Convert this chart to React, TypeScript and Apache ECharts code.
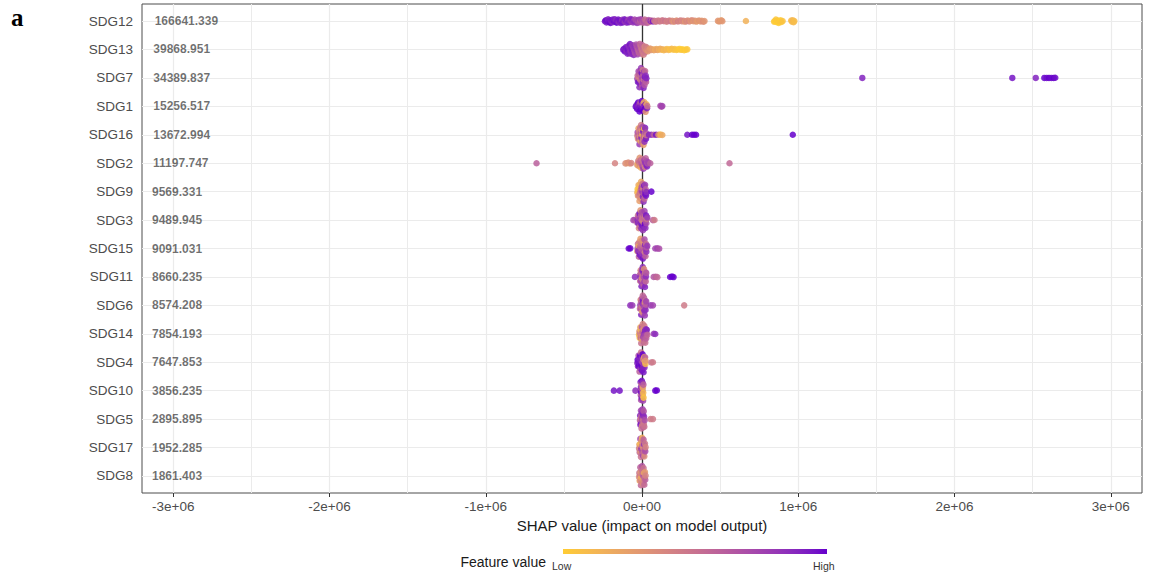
import React, { useEffect, useRef } from "react";
import * as echarts from "echarts";

const features = ["SDG12","SDG13","SDG7","SDG1","SDG16","SDG2","SDG9","SDG3","SDG15","SDG11","SDG6","SDG14","SDG4","SDG10","SDG5","SDG17","SDG8"];
const meanAbsShap = ["166641.339","39868.951","34389.837","15256.517","13672.994","11197.747","9569.331","9489.945","9091.031","8660.235","8574.208","7854.193","7647.853","3856.235","2895.895","1952.285","1861.403"];
const xTicks = [-3e6, -2e6, -1e6, 0, 1e6, 2e6, 3e6];
const xMinorTicks = [-2.5e6, -1.5e6, -0.5e6, 0.5e6, 1.5e6, 2.5e6];
const legendLabels = ["Low", "High"];

// [SHAP value in thousands, normalised feature value 0 (low) .. 1 (high)]
const sdg12 = [[-237,.95],[-232,.98],[-227,.92],[-222,.97],[-217,.9],[-212,.96],[-207,.93],[-202,.99],[-197,.9],[-192,.95],[-187,.88],[-182,.97],[-177,.92],[-172,.95],[-167,.86],[-162,.98],[-157,.9],[-152,.94],[-147,.85],[-142,.96],[-137,.9],[-132,.93],[-127,.82],[-122,.95],[-117,.88],[-112,.92],[-107,.8],[-102,.94],[-97,.86],[-92,.9],[-87,.78],[-82,.92],[-77,.84],[-72,.88],[-67,.75],[-62,.9],[-57,.8],[-52,.85],
  [-47,.72],[-42,.85],[-37,.7],[-32,.8],[-27,.65],[-22,.78],[-17,.7],[-12,.6],[-7,.75],[-2,.65],[3,.7],[8,.58],[13,.68],[18,.55],[23,.62],[28,.5],[33,.6],[38,.55],[43,.65],[48,.5],[55,.9],[62,.55],[70,.95],[78,.5],[86,.45],
  [95,.48],[104,.45],[113,.5],[122,.42],[131,.47],[140,.44],[149,.5],[158,.4],[167,.45],[176,.42],[185,.48],[194,.35],[203,.3],[212,.4],[221,.32],[230,.44],[239,.38],[248,.42],[257,.36],[266,.4],[275,.3],[284,.38],[293,.34],[302,.4],[311,.3],[320,.36],[329,.28],[338,.34],[347,.3],[356,.25],[365,.32],[374,.28],[383,.3],[392,.35],[400,.3],
  [486,.3],[493,.28],[500,.3],[507,.26],[514,.3],[665,.15],
  [845,.02],[851,0],[857,.03],[863,0],[869,.02],[875,0],[881,.04],[887,0],[893,.02],[900,.05],[955,.1],[960,.08],[965,.12],[970,.1],[975,.08]];
const sdg13 = [[-120,.95],[-115,.92],[-110,.97],[-106,.9],[-102,.95],[-98,.88],[-95,.93],[-92,.9],[-89,.96],[-86,.85],[-83,.92],[-80,.88],[-77,.95],[-74,.82],[-71,.9],[-68,.85],[-65,.93],[-62,.8],[-59,.9],[-56,.78],[-53,.88],[-50,.75],[-47,.85],[-44,.7],[-41,.82],[-38,.68],[-35,.8],[-32,.65],[-29,.75],[-26,.6],[-23,.72],[-20,.58],[-17,.7],[-14,.55],[-11,.65],[-8,.5],[-5,.62],[-2,.48],[1,.58],[4,.45],[7,.55],[10,.42],[13,.5],[16,.4],[19,.48],[22,.38],[26,.45],[30,.35],[35,.4],[40,.3],[46,.35],[52,.28],[60,.3],[68,.22],[76,.25],[84,.18],[92,.2],[100,.25],[108,.15],[116,.2],[124,.12],[132,.18],[140,.1],[150,.15],[160,.08],[170,.12],[180,.05],[190,.1],[200,.05],[210,.08],[220,.03],[230,.05],[240,0],[250,.03],[260,0],[270,.02],[280,0],[290,.03]];
const sdg7 = [[-30,.8],[-28,.55],[-26,.9],[-24,.45],[-22,.75],[-20,.95],[-18,.6],[-16,.85],[-14,.4],[-12,.7],[-10,.9],[-8,.55],[-6,.8],[-4,.5],[-2,.95],[0,.65],[2,.75],[4,.45],[6,.85],[8,.6],[10,.9],[12,.5],[14,.8],[16,.65],[18,.95],[20,.55],[22,.75],[24,.85],[26,.6],[28,.9],[1410,.9],[2370,.95],[2520,.9],[2575,1],[2590,.97],[2605,1],[2620,.98],[2635,1],[2645,.97]];
const sdg1 = [[-40,1],[-34,.95],[-31,1],[-28,.9],[-25,1],[-22,.95],[-19,.85],[-16,1],[-13,.95],[-10,.6],[-7,1],[-4,.9],[-1,1],[2,.95],[5,.55],[8,1],[11,.9],[14,.2],[17,1],[20,.95],[23,.3],[26,1],[29,.15],[32,.9],[34,.5],[118,.75],[124,.7],[130,.75]];
const sdg16 = [[-30,.45],[-28,.7],[-26,.3],[-24,.55],[-22,.2],[-20,.65],[-18,.4],[-16,.8],[-14,.35],[-12,.5],[-10,.15],[-8,.6],[-6,.45],[-4,.9],[-2,.3],[0,.55],[2,.1],[4,.7],[6,.4],[8,.95],[10,.25],[12,.6],[14,.05],[16,.85],[18,.45],[20,.9],[22,.2],[24,.7],[26,.95],[28,.5],[45,.9],[60,.85],[75,.6],[90,.95],[105,.3],[118,.1],[130,.2],[290,.95],[320,1],[333,1],[346,1],[965,1]];
const sdg2 = [[-675,.6],[-173,.4],[-106,.35],[-97,.3],[-88,.35],[-78,.3],[-68,.4],[-30,.3],[-27,.2],[-24,.45],[-21,.25],[-18,.5],[-15,.3],[-12,.4],[-9,.55],[-6,.2],[-3,.6],[0,.45],[3,.7],[6,.5],[9,.8],[12,.55],[15,.75],[18,.4],[21,.85],[24,.6],[27,.8],[30,.7],[33,.9],[36,.65],[40,.75],[53,.6],[560,.55]];
const sdg9 = [[-30,.15],[-28,.05],[-26,.3],[-24,.1],[-22,.2],[-20,.4],[-18,.05],[-16,.25],[-14,.5],[-12,.15],[-10,.35],[-8,.6],[-6,.2],[-4,.45],[-2,.7],[0,.3],[2,.8],[4,.5],[6,.9],[8,.4],[10,.85],[12,.65],[14,.95],[16,.55],[18,.9],[20,.75],[22,1],[24,.6],[26,.95],[28,.85],[60,1]];
const sdg3 = [[-55,.75],[-45,.7],[-30,.6],[-28,.85],[-26,.5],[-24,.9],[-22,.65],[-20,.4],[-18,.8],[-16,.95],[-14,.55],[-12,.75],[-10,.3],[-8,.9],[-6,.6],[-4,.85],[-2,.45],[0,.7],[2,.95],[4,.5],[6,.8],[8,.35],[10,.65],[12,.9],[14,.55],[16,.75],[18,1],[20,.45],[22,.85],[24,.6],[26,.95],[28,.7],[30,.5],[34,.8],[70,.6],[80,.45]];
const sdg15 = [[-85,1],[-75,1],[-30,.3],[-28,.7],[-26,.5],[-24,.9],[-22,.2],[-20,.6],[-18,.8],[-16,.4],[-14,.95],[-12,.55],[-10,.25],[-8,.75],[-6,.45],[-4,.9],[-2,.6],[0,.35],[2,.8],[4,.5],[6,.95],[8,.65],[10,.3],[12,.85],[14,.55],[16,.7],[18,.4],[20,.9],[22,.6],[24,.75],[26,.5],[28,.85],[30,.65],[34,.8],[85,.75],[98,.75],[110,.7]];
const sdg11 = [[-45,.85],[-13,.6],[-12,.5],[-11,.85],[-9,.4],[-7,.75],[-5,.55],[-3,.9],[-1,.3],[0,.8],[1,.7],[3,.5],[5,.85],[7,.45],[9,.95],[11,.6],[12,.7],[13,.35],[15,.8],[17,.55],[19,.9],[21,.7],[23,.45],[24,.55],[25,.85],[27,.65],[75,.65],[88,.6],[98,.55],[180,1],[192,1],[202,1]];
const sdg6 = [[-75,.85],[-62,.8],[-13,.5],[-11,.8],[-9,.35],[-7,.7],[-6,.6],[-5,.9],[-3,.45],[-1,.65],[1,.25],[3,.85],[5,.55],[6,.5],[7,.95],[9,.4],[11,.75],[13,.6],[15,.9],[17,.3],[18,.8],[19,.7],[21,.5],[23,.85],[25,.6],[27,.75],[55,.8],[70,.75],[270,.45]];
const sdg14 = [[-19,.1],[-17,.3],[-15,.05],[-13,.45],[-11,.2],[-9,.55],[-7,.15],[-5,.5],[-3,.35],[-1,.65],[1,.25],[3,.6],[5,.4],[7,.75],[9,.3],[11,.55],[13,.8],[15,.45],[17,.65],[19,.9],[21,.5],[23,.7],[25,.85],[27,.6],[29,.75],[31,.9],[34,.55],[75,.8],[85,.85]];
const sdg4 = [[-30,.9],[-28,1],[-26,.85],[-24,.95],[-22,.7],[-20,1],[-18,.9],[-16,.6],[-14,.95],[-12,1],[-10,.8],[-8,.9],[-6,.5],[-4,1],[-2,.85],[0,.95],[2,.7],[4,1],[6,.9],[8,.4],[10,.95],[12,.8],[14,.2],[16,.9],[18,.15],[20,.6],[22,.1],[23,.3],[60,.5],[70,.45]];
const sdg10 = [[-180,.95],[-143,.95],[-42,.85],[-10,.8],[-9,.95],[-8,.6],[-7,.9],[-6,.7],[-5,1],[-4,.5],[-3,.85],[-2,.65],[-1,.95],[0,.75],[1,.55],[2,.9],[3,.7],[4,.85],[5,.4],[6,.2],[7,.75],[8,.1],[9,.6],[10,.05],[85,1],[95,1]];
const sdg5 = [[-13,.6],[-12,.9],[-11,.85],[-9,.45],[-7,.75],[-5,.95],[-4,.6],[-3,.5],[-1,.7],[0,.85],[1,.35],[3,.8],[4,.75],[5,.55],[7,.9],[8,.6],[9,.4],[11,.65],[12,.45],[13,.85],[15,.5],[17,.7],[55,.45],[70,.45]];
const sdg17 = [[-19,.45],[-17,.2],[-15,.6],[-13,.35],[-11,.7],[-10,.3],[-9,.1],[-7,.5],[-5,.8],[-3,.3],[-1,.55],[0,.5],[1,.15],[3,.65],[5,.4],[7,.75],[9,.25],[10,.6],[11,.5],[13,.85],[15,.35],[17,.6],[19,.45],[21,.7],[23,.4]];
const sdg8 = [[-19,.35],[-17,.5],[-15,.2],[-13,.45],[-11,.6],[-10,.4],[-9,.3],[-7,.55],[-5,.15],[-3,.5],[-1,.4],[0,.45],[1,.65],[3,.25],[5,.5],[7,.35],[9,.7],[10,.5],[11,.4],[13,.2],[15,.55],[17,.45],[19,.3],[21,.6],[23,.4]];

const rows = [sdg12, sdg13, sdg7, sdg1, sdg16, sdg2, sdg9, sdg3, sdg15, sdg11, sdg6, sdg14, sdg4, sdg10, sdg5, sdg17, sdg8];

const LOW = "#FFCC33";
const HIGH = "#6600CC";
const FONT = '"Liberation Sans", Arial, sans-serif';

function hexToRgb(h: string) {
  const n = parseInt(h.slice(1), 16);
  return [(n >> 16) & 255, (n >> 8) & 255, n & 255];
}
function s2l(c: number) { c /= 255; return c <= 0.04045 ? c / 12.92 : Math.pow((c + 0.055) / 1.055, 2.4); }
function l2s(c: number) { const v = c <= 0.0031308 ? 12.92 * c : 1.055 * Math.pow(c, 1 / 2.4) - 0.055; return Math.round(Math.max(0, Math.min(1, v)) * 255); }
const XN = 0.95047, ZN = 1.08883;
function fLab(t: number) { return t > 0.008856 ? Math.cbrt(t) : 7.787 * t + 16 / 116; }
function fInv(t: number) { return t > 0.206893 ? t * t * t : (t - 16 / 116) / 7.787; }
function rgb2lab(rgb: number[]) {
  const R = s2l(rgb[0]), G = s2l(rgb[1]), B = s2l(rgb[2]);
  const X = 0.4124 * R + 0.3576 * G + 0.1805 * B;
  const Y = 0.2126 * R + 0.7152 * G + 0.0722 * B;
  const Z = 0.0193 * R + 0.1192 * G + 0.9505 * B;
  const fx = fLab(X / XN), fy = fLab(Y), fz = fLab(Z / ZN);
  return [116 * fy - 16, 500 * (fx - fy), 200 * (fy - fz)];
}
function lab2rgb(lab: number[]) {
  const fy = (lab[0] + 16) / 116, fx = fy + lab[1] / 500, fz = fy - lab[2] / 200;
  const X = fInv(fx) * XN, Y = fInv(fy), Z = fInv(fz) * ZN;
  const R = 3.2406 * X - 1.5372 * Y - 0.4986 * Z;
  const G = -0.9689 * X + 1.8758 * Y + 0.0415 * Z;
  const B = 0.0557 * X - 0.204 * Y + 1.057 * Z;
  return [l2s(R), l2s(G), l2s(B)];
}
const labLow = rgb2lab(hexToRgb(LOW));
const labHigh = rgb2lab(hexToRgb(HIGH));
function colorAt(t: number) {
  const lab = labLow.map((v, i) => v + (labHigh[i] - v) * t);
  const c = lab2rgb(lab);
  return `rgb(${c[0]},${c[1]},${c[2]})`;
}

function fmtTick(v: number) {
  if (v === 0) return "0e+00";
  return `${v / 1e6}e+06`;
}

export default function App() {
  const ref = useRef<HTMLDivElement>(null);
  useEffect(() => {
    document.body.style.margin = "0";
    if (!ref.current) return;
    const chart = echarts.init(ref.current, undefined, { renderer: "svg" });

    // sina-style vertical spread (layout only): width grows with local point count
    const MAXH = 0.37, W = 12, REF = 12, P = 1.5;
    const pts: any[] = [];
    rows.forEach((row, r) => {
      const sorted = [...row].sort((a, b) => a[0] - b[0]);
      sorted.forEach(([s, f], i) => {
        const cnt = sorted.filter((p) => Math.abs(p[0] - s) <= W).length - 1;
        const half = MAXH * Math.pow(Math.min(1, cnt / REF), P);
        const u = (((i + 1) * 0.6180339887) % 1) * 2 - 1;
        pts.push({ value: [s * 1000, r + half * u], itemStyle: { color: colorAt(f) } });
      });
    });

    const canvas = document.createElement("canvas");
    const ctx = canvas.getContext("2d")!;
    ctx.font = `bold 12px ${FONT}`;
    const labelData = features.map((_, i) => ({
      value: [-3.2e6, i],
      label: { offset: [0.2 * ctx.measureText(meanAbsShap[i]).width, 0] },
    }));

    const stops = Array.from({ length: 21 }, (_, k) => ({ offset: k / 20, color: colorAt(k / 20) }));
    const idx = features.map((_, i) => i);

    chart.setOption({
      animation: false,
      grid: { left: 142, top: 4, width: 1000, height: 489, show: true, borderColor: "#4d4d4d", borderWidth: 1, backgroundColor: "transparent" },
      xAxis: [
        {
          type: "value", min: -3.2e6, max: 3.2e6, position: "bottom",
          axisLine: { show: false, onZero: false },
          axisTick: { show: true, length: 4, customValues: xTicks, lineStyle: { color: "#333" } },
          axisLabel: { customValues: xTicks, formatter: fmtTick, color: "#4d4d4d", fontSize: 13.5, fontFamily: FONT, margin: 6 },
          splitLine: { show: true, lineStyle: { color: "#ebebeb", width: 1.2 } },
          name: "SHAP value (impact on model output)", nameLocation: "middle", nameGap: 20,
          nameTextStyle: { fontSize: 15, color: "#1a1a1a", fontFamily: FONT },
        },
        {
          type: "value", min: -3.2e6, max: 3.2e6, position: "bottom",
          axisLine: { show: false, onZero: false },
          axisTick: { show: false, customValues: xMinorTicks },
          axisLabel: { show: false, customValues: xMinorTicks },
          splitLine: { show: true, lineStyle: { color: "#ebebeb", width: 1 } },
        },
      ],
      yAxis: {
        type: "value", min: -0.6, max: 16.6, inverse: true,
        axisLine: { show: false, onZero: false },
        axisTick: { show: false, customValues: idx },
        axisLabel: { customValues: idx, formatter: (v: number) => features[Math.round(v)], color: "#4d4d4d", fontSize: 13.5, fontFamily: FONT, margin: 9 },
        splitLine: { show: true, lineStyle: { color: "#ebebeb", width: 1.2 } },
      },
      series: [
        {
          type: "scatter", z: 2, symbolSize: 6.5, data: pts, itemStyle: { opacity: 0.85 }, silent: true,
          markLine: {
            z: 1, silent: true, symbol: ["none", "none"], label: { show: false },
            lineStyle: { color: "#333", width: 1.3, type: "solid" },
            data: [{ xAxis: 0 }],
          },
        },
        {
          type: "scatter", z: 3, symbolSize: 0, data: labelData, silent: true,
          label: {
            show: true, position: "right", distance: 0,
            formatter: (p: any) => meanAbsShap[p.dataIndex],
            fontWeight: "bold", fontSize: 12, fontFamily: FONT, color: "rgba(0,0,0,0.7)",
          },
        },
      ],
      graphic: [
        { type: "text", left: 11, top: 5, style: { text: "a", font: 'bold 25px "Liberation Serif", "Times New Roman", serif', fill: "#000" } },
        { type: "rect", shape: { x: 563, y: 549, width: 264, height: 5 }, style: { fill: new echarts.graphic.LinearGradient(0, 0, 1, 0, stops) } },
        { type: "text", x: 546, y: 562, style: { text: "Feature value", font: `14px ${FONT}`, fill: "#1a1a1a", align: "right", verticalAlign: "middle", textAlign: "right", textVerticalAlign: "middle" } },
        { type: "text", x: 552, y: 566, style: { text: legendLabels[0], font: `10.5px ${FONT}`, fill: "#333", align: "left", verticalAlign: "middle", textAlign: "left", textVerticalAlign: "middle" } },
        { type: "text", x: 813, y: 566, style: { text: legendLabels[1], font: `10.5px ${FONT}`, fill: "#333", align: "left", verticalAlign: "middle", textAlign: "left", textVerticalAlign: "middle" } },
      ],
    });
    return () => chart.dispose();
  }, []);
  return <div ref={ref} style={{ width: 1155, height: 574 }} />;
}
